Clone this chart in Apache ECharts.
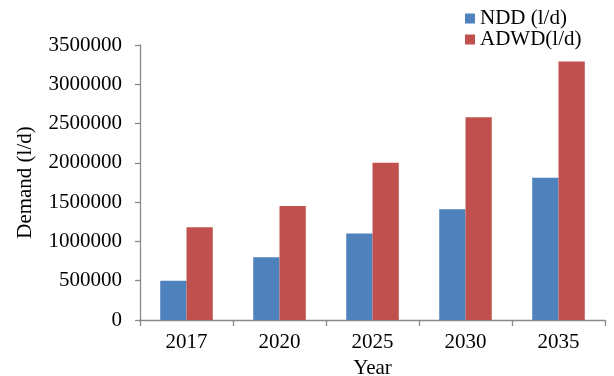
<!DOCTYPE html>
<html>
<head>
<meta charset="utf-8">
<script src="https://cdn.jsdelivr.net/npm/echarts@6/dist/echarts.min.js"></script>
<style>
html,body{margin:0;padding:0;background:#fff;}
#chart{width:614px;height:376px;}
</style>
</head>
<body>
<div id="chart"></div>
<script>
const categories = ['2017', '2020', '2025', '2030', '2035'];
const nddValues = [500000, 800000, 1100000, 1410000, 1810000];
const adwdValues = [1180000, 1450000, 2000000, 2580000, 3290000];
const seriesNames = ['NDD (l/d)', 'ADWD(l/d)'];
const yAxisTitle = 'Demand (l/d)';
const xAxisTitle = 'Year';

const font = "'Liberation Serif', 'Times New Roman', serif";
const axisColor = '#898989';
const fs = 21;
const chart = echarts.init(document.getElementById('chart'), null, {renderer: 'canvas'});
chart.setOption({
  animation: false,
  backgroundColor: '#ffffff',
  textStyle: {fontFamily: font, color: '#000'},
  grid: {left: 140, right: 9, top: 45, bottom: 56, containLabel: false, outerBoundsMode: 'none'},
  legend: {
    orient: 'vertical',
    left: 460,
    top: 3,
    itemWidth: 10,
    itemHeight: 10,
    itemGap: 0,
    icon: 'rect',
    textStyle: {fontFamily: font, fontSize: fs, color: '#000', padding: [0, 0, 0, 0]},
    data: seriesNames
  },
  xAxis: {
    type: 'category',
    data: categories,
    name: xAxisTitle,
    nameLocation: 'middle',
    nameGap: 33,
    nameTextStyle: {fontFamily: font, fontSize: fs, color: '#000'},
    axisLine: {lineStyle: {color: axisColor, width: 1.3}},
    axisTick: {show: true, length: 6, lineStyle: {color: axisColor, width: 1.3}},
    axisLabel: {fontFamily: font, fontSize: fs, color: '#000', margin: 12},
    splitLine: {show: false}
  },
  yAxis: {
    type: 'value',
    min: 0,
    max: 3500000,
    interval: 500000,
    name: yAxisTitle,
    nameLocation: 'middle',
    nameGap: 104,
    nameRotate: 90,
    nameTextStyle: {fontFamily: font, fontSize: fs, color: '#000'},
    axisLine: {show: true, lineStyle: {color: axisColor, width: 1.3}},
    axisTick: {show: true, length: 5, lineStyle: {color: axisColor, width: 1.3}},
    axisLabel: {fontFamily: font, fontSize: fs, color: '#000', margin: 18, formatter: function (v) { return String(v); }},
    splitLine: {show: false}
  },
  series: [
    {name: seriesNames[0], type: 'bar', data: nddValues, barGap: '0%', barCategoryGap: '43.5%', itemStyle: {color: '#4F81BD'}},
    {name: seriesNames[1], type: 'bar', data: adwdValues, barGap: '0%', barCategoryGap: '43.5%', itemStyle: {color: '#C0504D'}}
  ]
});
</script>
</body>
</html>
